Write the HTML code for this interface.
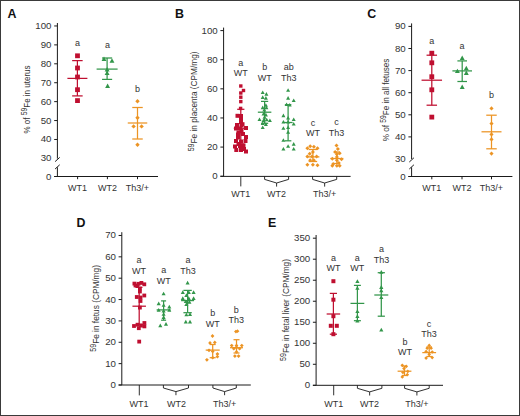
<!DOCTYPE html>
<html><head><meta charset="utf-8"><style>
html,body{margin:0;padding:0;background:#fff;}
body{width:520px;height:416px;overflow:hidden;}
svg{display:block;font-family:"Liberation Sans", sans-serif;}
</style></head><body>
<svg width="520" height="416" viewBox="0 0 520 416">
<rect x="0" y="0" width="520" height="416" fill="#fff"/>
<text x="7.60" y="17.70" font-size="12.4" text-anchor="start" fill="#111" font-weight="bold" >A</text>
<line x1="57.40" y1="23.00" x2="57.40" y2="158.60" stroke="#1a1a1a" stroke-width="1.0"/>
<line x1="57.40" y1="167.30" x2="57.40" y2="176.50" stroke="#1a1a1a" stroke-width="1.0"/>
<line x1="55.10" y1="161.60" x2="59.70" y2="157.40" stroke="#1a1a1a" stroke-width="1.0"/>
<line x1="55.10" y1="169.00" x2="59.70" y2="164.80" stroke="#1a1a1a" stroke-width="1.0"/>
<line x1="54.20" y1="25.96" x2="57.40" y2="25.96" stroke="#1a1a1a" stroke-width="1.0"/>
<text transform="translate(51.50,28.96) scale(1.1,1)" x="0" y="0" font-size="8.8" text-anchor="end" fill="#333333" font-weight="normal" >100</text>
<line x1="54.20" y1="44.88" x2="57.40" y2="44.88" stroke="#1a1a1a" stroke-width="1.0"/>
<text transform="translate(51.50,47.88) scale(1.1,1)" x="0" y="0" font-size="8.8" text-anchor="end" fill="#333333" font-weight="normal" >90</text>
<line x1="54.20" y1="63.80" x2="57.40" y2="63.80" stroke="#1a1a1a" stroke-width="1.0"/>
<text transform="translate(51.50,66.80) scale(1.1,1)" x="0" y="0" font-size="8.8" text-anchor="end" fill="#333333" font-weight="normal" >80</text>
<line x1="54.20" y1="82.72" x2="57.40" y2="82.72" stroke="#1a1a1a" stroke-width="1.0"/>
<text transform="translate(51.50,85.72) scale(1.1,1)" x="0" y="0" font-size="8.8" text-anchor="end" fill="#333333" font-weight="normal" >70</text>
<line x1="54.20" y1="101.64" x2="57.40" y2="101.64" stroke="#1a1a1a" stroke-width="1.0"/>
<text transform="translate(51.50,104.64) scale(1.1,1)" x="0" y="0" font-size="8.8" text-anchor="end" fill="#333333" font-weight="normal" >60</text>
<line x1="54.20" y1="120.56" x2="57.40" y2="120.56" stroke="#1a1a1a" stroke-width="1.0"/>
<text transform="translate(51.50,123.56) scale(1.1,1)" x="0" y="0" font-size="8.8" text-anchor="end" fill="#333333" font-weight="normal" >50</text>
<line x1="54.20" y1="139.48" x2="57.40" y2="139.48" stroke="#1a1a1a" stroke-width="1.0"/>
<text transform="translate(51.50,142.48) scale(1.1,1)" x="0" y="0" font-size="8.8" text-anchor="end" fill="#333333" font-weight="normal" >40</text>
<text transform="translate(51.50,161.40) scale(1.1,1)" x="0" y="0" font-size="8.8" text-anchor="end" fill="#333333" font-weight="normal" >30</text>
<line x1="54.20" y1="176.50" x2="57.40" y2="176.50" stroke="#1a1a1a" stroke-width="1.0"/>
<text transform="translate(51.50,179.50) scale(1.1,1)" x="0" y="0" font-size="8.8" text-anchor="end" fill="#333333" font-weight="normal" >0</text>
<line x1="54.20" y1="176.50" x2="158.00" y2="176.50" stroke="#1a1a1a" stroke-width="1.0"/>
<line x1="77.60" y1="176.50" x2="77.60" y2="179.20" stroke="#1a1a1a" stroke-width="1.0"/>
<line x1="107.40" y1="176.50" x2="107.40" y2="179.20" stroke="#1a1a1a" stroke-width="1.0"/>
<line x1="137.50" y1="176.50" x2="137.50" y2="179.20" stroke="#1a1a1a" stroke-width="1.0"/>
<text x="77.60" y="191.20" font-size="9.0" text-anchor="middle" fill="#333333" font-weight="normal" >WT1</text>
<text x="107.40" y="191.20" font-size="9.0" text-anchor="middle" fill="#333333" font-weight="normal" >WT2</text>
<text x="137.50" y="191.20" font-size="9.0" text-anchor="middle" fill="#333333" font-weight="normal" >Th3/+</text>
<text transform="translate(29.60,99.50) rotate(-90)" x="0" y="0" font-size="9.6" text-anchor="middle" fill="#333333" textLength="68.0" lengthAdjust="spacingAndGlyphs">% of <tspan font-size="8.16" dy="-3.0">59</tspan><tspan dy="3.0">​</tspan>Fe in uterus</text>
<line x1="77.40" y1="60.60" x2="77.40" y2="95.90" stroke="#bf0f30" stroke-width="1.25"/>
<line x1="67.40" y1="78.40" x2="87.40" y2="78.40" stroke="#bf0f30" stroke-width="1.25"/>
<line x1="72.15" y1="60.60" x2="82.65" y2="60.60" stroke="#bf0f30" stroke-width="1.25"/>
<line x1="72.15" y1="95.90" x2="82.65" y2="95.90" stroke="#bf0f30" stroke-width="1.25"/>
<rect x="75.10" y="53.40" width="4.8" height="4.8" fill="#bf0f30"/>
<rect x="75.10" y="65.60" width="4.8" height="4.8" fill="#bf0f30"/>
<rect x="75.10" y="74.60" width="4.8" height="4.8" fill="#bf0f30"/>
<rect x="75.10" y="87.30" width="4.8" height="4.8" fill="#bf0f30"/>
<rect x="75.10" y="98.20" width="4.8" height="4.8" fill="#bf0f30"/>
<text x="77.60" y="46.30" font-size="9.0" text-anchor="middle" fill="#333333" font-weight="normal" >a</text>
<line x1="107.10" y1="58.00" x2="107.10" y2="79.40" stroke="#32964a" stroke-width="1.25"/>
<line x1="96.60" y1="69.10" x2="117.60" y2="69.10" stroke="#32964a" stroke-width="1.25"/>
<line x1="102.05" y1="58.00" x2="112.15" y2="58.00" stroke="#32964a" stroke-width="1.25"/>
<line x1="102.05" y1="79.40" x2="112.15" y2="79.40" stroke="#32964a" stroke-width="1.25"/>
<path d="M104.00,56.50 L106.45,60.91 L101.55,60.91Z" fill="#32964a"/>
<path d="M112.00,58.30 L114.45,62.70 L109.55,62.70Z" fill="#32964a"/>
<path d="M107.10,67.09 L109.55,71.50 L104.65,71.50Z" fill="#32964a"/>
<path d="M107.10,70.50 L109.55,74.91 L104.65,74.91Z" fill="#32964a"/>
<path d="M107.60,83.50 L110.05,87.91 L105.15,87.91Z" fill="#32964a"/>
<text x="107.40" y="48.30" font-size="9.0" text-anchor="middle" fill="#333333" font-weight="normal" >a</text>
<line x1="137.50" y1="107.50" x2="137.50" y2="139.00" stroke="#ec9424" stroke-width="1.25"/>
<line x1="127.75" y1="123.00" x2="147.25" y2="123.00" stroke="#ec9424" stroke-width="1.25"/>
<line x1="132.25" y1="107.50" x2="142.75" y2="107.50" stroke="#ec9424" stroke-width="1.25"/>
<line x1="132.25" y1="139.00" x2="142.75" y2="139.00" stroke="#ec9424" stroke-width="1.25"/>
<path d="M137.50,99.10 L139.70,101.30 L137.50,103.50 L135.30,101.30Z" fill="#ec9424"/>
<path d="M137.50,115.50 L139.70,117.70 L137.50,119.90 L135.30,117.70Z" fill="#ec9424"/>
<path d="M133.60,124.20 L135.80,126.40 L133.60,128.60 L131.40,126.40Z" fill="#ec9424"/>
<path d="M141.60,124.20 L143.80,126.40 L141.60,128.60 L139.40,126.40Z" fill="#ec9424"/>
<path d="M137.50,142.60 L139.70,144.80 L137.50,147.00 L135.30,144.80Z" fill="#ec9424"/>
<text x="137.50" y="92.00" font-size="9.0" text-anchor="middle" fill="#333333" font-weight="normal" >b</text>
<text x="175.00" y="17.90" font-size="12.4" text-anchor="start" fill="#111" font-weight="bold" >B</text>
<line x1="223.60" y1="27.60" x2="223.60" y2="176.40" stroke="#1a1a1a" stroke-width="1.0"/>
<line x1="220.40" y1="30.60" x2="223.60" y2="30.60" stroke="#1a1a1a" stroke-width="1.0"/>
<text transform="translate(217.70,33.60) scale(1.1,1)" x="0" y="0" font-size="8.8" text-anchor="end" fill="#333333" font-weight="normal" >100</text>
<line x1="220.40" y1="59.72" x2="223.60" y2="59.72" stroke="#1a1a1a" stroke-width="1.0"/>
<text transform="translate(217.70,62.72) scale(1.1,1)" x="0" y="0" font-size="8.8" text-anchor="end" fill="#333333" font-weight="normal" >80</text>
<line x1="220.40" y1="88.84" x2="223.60" y2="88.84" stroke="#1a1a1a" stroke-width="1.0"/>
<text transform="translate(217.70,91.84) scale(1.1,1)" x="0" y="0" font-size="8.8" text-anchor="end" fill="#333333" font-weight="normal" >60</text>
<line x1="220.40" y1="117.96" x2="223.60" y2="117.96" stroke="#1a1a1a" stroke-width="1.0"/>
<text transform="translate(217.70,120.96) scale(1.1,1)" x="0" y="0" font-size="8.8" text-anchor="end" fill="#333333" font-weight="normal" >40</text>
<line x1="220.40" y1="147.08" x2="223.60" y2="147.08" stroke="#1a1a1a" stroke-width="1.0"/>
<text transform="translate(217.70,150.08) scale(1.1,1)" x="0" y="0" font-size="8.8" text-anchor="end" fill="#333333" font-weight="normal" >20</text>
<line x1="220.40" y1="176.20" x2="223.60" y2="176.20" stroke="#1a1a1a" stroke-width="1.0"/>
<text transform="translate(217.70,179.20) scale(1.1,1)" x="0" y="0" font-size="8.8" text-anchor="end" fill="#333333" font-weight="normal" >0</text>
<line x1="220.40" y1="176.40" x2="350.60" y2="176.40" stroke="#1a1a1a" stroke-width="1.0"/>
<line x1="240.80" y1="176.40" x2="240.80" y2="186.40" stroke="#1a1a1a" stroke-width="0.9"/>
<path d="M264.60,176.40 V179.40 L276.60,183.00 L288.60,179.40 V176.40 M276.60,183.00 V186.60" fill="none" stroke="#1a1a1a" stroke-width="0.9"/>
<path d="M312.60,176.40 V179.40 L324.65,183.00 L336.70,179.40 V176.40 M324.65,183.00 V186.60" fill="none" stroke="#1a1a1a" stroke-width="0.9"/>
<text x="240.80" y="197.40" font-size="9.0" text-anchor="middle" fill="#333333" font-weight="normal" >WT1</text>
<text x="276.60" y="197.40" font-size="9.0" text-anchor="middle" fill="#333333" font-weight="normal" >WT2</text>
<text x="324.60" y="197.40" font-size="9.0" text-anchor="middle" fill="#333333" font-weight="normal" >Th3/+</text>
<text transform="translate(196.60,101.40) rotate(-90)" x="0" y="0" font-size="9.6" text-anchor="middle" fill="#333333" textLength="99.8" lengthAdjust="spacingAndGlyphs"><tspan font-size="8.16" dy="-3.0">59</tspan><tspan dy="3.0">​</tspan>Fe in placenta (CPM/mg)</text>
<text x="240.80" y="65.50" font-size="9.0" text-anchor="middle" fill="#333333" font-weight="normal" >a</text>
<text x="240.80" y="76.30" font-size="9.0" text-anchor="middle" fill="#333333" font-weight="normal" >WT</text>
<text x="264.80" y="70.00" font-size="9.0" text-anchor="middle" fill="#333333" font-weight="normal" >b</text>
<text x="264.80" y="81.30" font-size="9.0" text-anchor="middle" fill="#333333" font-weight="normal" >WT</text>
<text x="288.70" y="70.00" font-size="9.0" text-anchor="middle" fill="#333333" font-weight="normal" >ab</text>
<text x="288.70" y="81.30" font-size="9.0" text-anchor="middle" fill="#333333" font-weight="normal" >Th3</text>
<text x="312.90" y="126.30" font-size="9.0" text-anchor="middle" fill="#333333" font-weight="normal" >c</text>
<text x="312.90" y="136.30" font-size="9.0" text-anchor="middle" fill="#333333" font-weight="normal" >WT</text>
<text x="336.60" y="125.00" font-size="9.0" text-anchor="middle" fill="#333333" font-weight="normal" >c</text>
<text x="336.60" y="135.50" font-size="9.0" text-anchor="middle" fill="#333333" font-weight="normal" >Th3</text>
<line x1="240.80" y1="109.30" x2="240.80" y2="144.00" stroke="#bf0f30" stroke-width="1.25"/>
<line x1="233.80" y1="128.30" x2="247.80" y2="128.30" stroke="#bf0f30" stroke-width="1.25"/>
<line x1="237.20" y1="109.30" x2="244.40" y2="109.30" stroke="#bf0f30" stroke-width="1.25"/>
<line x1="237.20" y1="144.00" x2="244.40" y2="144.00" stroke="#bf0f30" stroke-width="1.25"/>
<rect x="239.10" y="84.30" width="3.4" height="3.4" fill="#bf0f30"/>
<rect x="241.80" y="88.80" width="3.4" height="3.4" fill="#bf0f30"/>
<rect x="239.10" y="91.30" width="3.4" height="3.4" fill="#bf0f30"/>
<rect x="239.10" y="95.50" width="3.4" height="3.4" fill="#bf0f30"/>
<rect x="239.10" y="99.90" width="3.4" height="3.4" fill="#bf0f30"/>
<rect x="238.90" y="106.70" width="3.4" height="3.4" fill="#bf0f30"/>
<rect x="235.50" y="113.80" width="4.0" height="4.0" fill="#bf0f30"/>
<rect x="239.00" y="114.00" width="4.0" height="4.0" fill="#bf0f30"/>
<rect x="239.00" y="117.50" width="4.0" height="4.0" fill="#bf0f30"/>
<rect x="239.00" y="120.00" width="4.0" height="4.0" fill="#bf0f30"/>
<rect x="240.50" y="122.20" width="4.0" height="4.0" fill="#bf0f30"/>
<rect x="239.50" y="123.50" width="4.0" height="4.0" fill="#bf0f30"/>
<rect x="234.00" y="126.50" width="4.0" height="4.0" fill="#bf0f30"/>
<rect x="238.00" y="126.50" width="4.0" height="4.0" fill="#bf0f30"/>
<rect x="244.00" y="126.00" width="4.0" height="4.0" fill="#bf0f30"/>
<rect x="236.50" y="130.50" width="4.0" height="4.0" fill="#bf0f30"/>
<rect x="239.50" y="129.00" width="4.0" height="4.0" fill="#bf0f30"/>
<rect x="236.00" y="135.50" width="4.0" height="4.0" fill="#bf0f30"/>
<rect x="244.00" y="135.00" width="4.0" height="4.0" fill="#bf0f30"/>
<rect x="234.00" y="139.00" width="4.0" height="4.0" fill="#bf0f30"/>
<rect x="239.00" y="139.50" width="4.0" height="4.0" fill="#bf0f30"/>
<rect x="243.50" y="139.00" width="4.0" height="4.0" fill="#bf0f30"/>
<rect x="238.00" y="144.00" width="4.0" height="4.0" fill="#bf0f30"/>
<rect x="241.50" y="143.50" width="4.0" height="4.0" fill="#bf0f30"/>
<rect x="234.30" y="148.00" width="4.0" height="4.0" fill="#bf0f30"/>
<rect x="239.00" y="148.00" width="4.0" height="4.0" fill="#bf0f30"/>
<rect x="244.00" y="149.50" width="4.0" height="4.0" fill="#bf0f30"/>
<rect x="233.00" y="144.50" width="4.0" height="4.0" fill="#bf0f30"/>
<rect x="236.00" y="132.50" width="4.0" height="4.0" fill="#bf0f30"/>
<rect x="241.00" y="132.00" width="4.0" height="4.0" fill="#bf0f30"/>
<rect x="242.00" y="147.00" width="4.0" height="4.0" fill="#bf0f30"/>
<rect x="236.50" y="142.00" width="4.0" height="4.0" fill="#bf0f30"/>
<rect x="235.00" y="123.00" width="4.0" height="4.0" fill="#bf0f30"/>
<line x1="264.60" y1="101.40" x2="264.60" y2="123.30" stroke="#32964a" stroke-width="1.25"/>
<line x1="257.85" y1="112.20" x2="271.35" y2="112.20" stroke="#32964a" stroke-width="1.25"/>
<line x1="261.00" y1="101.40" x2="268.20" y2="101.40" stroke="#32964a" stroke-width="1.25"/>
<line x1="261.00" y1="123.30" x2="268.20" y2="123.30" stroke="#32964a" stroke-width="1.25"/>
<path d="M262.70,90.50 L264.70,94.10 L260.70,94.10Z" fill="#32964a"/>
<path d="M266.40,92.10 L268.40,95.70 L264.40,95.70Z" fill="#32964a"/>
<path d="M262.70,95.30 L264.70,98.90 L260.70,98.90Z" fill="#32964a"/>
<path d="M265.90,96.10 L267.90,99.70 L263.90,99.70Z" fill="#32964a"/>
<path d="M265.90,103.20 L267.90,106.80 L263.90,106.80Z" fill="#32964a"/>
<path d="M262.70,105.60 L264.70,109.20 L260.70,109.20Z" fill="#32964a"/>
<path d="M266.40,105.60 L268.40,109.20 L264.40,109.20Z" fill="#32964a"/>
<path d="M264.30,108.00 L266.30,111.60 L262.30,111.60Z" fill="#32964a"/>
<path d="M263.50,112.00 L265.50,115.60 L261.50,115.60Z" fill="#32964a"/>
<path d="M265.90,112.80 L267.90,116.40 L263.90,116.40Z" fill="#32964a"/>
<path d="M259.50,117.50 L261.50,121.10 L257.50,121.10Z" fill="#32964a"/>
<path d="M263.50,118.50 L265.50,122.10 L261.50,122.10Z" fill="#32964a"/>
<path d="M266.70,117.70 L268.70,121.30 L264.70,121.30Z" fill="#32964a"/>
<path d="M269.90,118.50 L271.90,122.10 L267.90,122.10Z" fill="#32964a"/>
<path d="M262.70,121.50 L264.70,125.10 L260.70,125.10Z" fill="#32964a"/>
<path d="M265.90,122.30 L267.90,125.90 L263.90,125.90Z" fill="#32964a"/>
<path d="M262.70,125.50 L264.70,129.10 L260.70,129.10Z" fill="#32964a"/>
<path d="M264.50,115.20 L266.50,118.80 L262.50,118.80Z" fill="#32964a"/>
<line x1="288.10" y1="104.70" x2="288.10" y2="140.80" stroke="#32964a" stroke-width="1.25"/>
<line x1="283.60" y1="122.50" x2="292.60" y2="122.50" stroke="#32964a" stroke-width="1.25"/>
<line x1="284.85" y1="104.70" x2="291.35" y2="104.70" stroke="#32964a" stroke-width="1.25"/>
<line x1="284.85" y1="140.80" x2="291.35" y2="140.80" stroke="#32964a" stroke-width="1.25"/>
<path d="M288.10,88.20 L290.10,91.80 L286.10,91.80Z" fill="#32964a"/>
<path d="M288.10,96.10 L290.10,99.70 L286.10,99.70Z" fill="#32964a"/>
<path d="M293.70,98.50 L295.70,102.10 L291.70,102.10Z" fill="#32964a"/>
<path d="M286.60,102.50 L288.60,106.10 L284.60,106.10Z" fill="#32964a"/>
<path d="M289.70,102.90 L291.70,106.50 L287.70,106.50Z" fill="#32964a"/>
<path d="M283.40,113.60 L285.40,117.20 L281.40,117.20Z" fill="#32964a"/>
<path d="M293.70,117.50 L295.70,121.10 L291.70,121.10Z" fill="#32964a"/>
<path d="M288.10,115.90 L290.10,119.50 L286.10,119.50Z" fill="#32964a"/>
<path d="M283.40,119.90 L285.40,123.50 L281.40,123.50Z" fill="#32964a"/>
<path d="M288.10,119.90 L290.10,123.50 L286.10,123.50Z" fill="#32964a"/>
<path d="M293.70,122.00 L295.70,125.60 L291.70,125.60Z" fill="#32964a"/>
<path d="M283.40,126.20 L285.40,129.80 L281.40,129.80Z" fill="#32964a"/>
<path d="M288.10,125.50 L290.10,129.10 L286.10,129.10Z" fill="#32964a"/>
<path d="M288.10,130.20 L290.10,133.80 L286.10,133.80Z" fill="#32964a"/>
<path d="M283.40,138.20 L285.40,141.80 L281.40,141.80Z" fill="#32964a"/>
<path d="M283.40,146.90 L285.40,150.50 L281.40,150.50Z" fill="#32964a"/>
<path d="M288.10,144.20 L290.10,147.80 L286.10,147.80Z" fill="#32964a"/>
<path d="M293.70,142.10 L295.70,145.70 L291.70,145.70Z" fill="#32964a"/>
<path d="M293.70,146.90 L295.70,150.50 L291.70,150.50Z" fill="#32964a"/>
<line x1="312.90" y1="149.50" x2="312.90" y2="161.50" stroke="#ec9424" stroke-width="1.25"/>
<line x1="306.40" y1="156.90" x2="319.40" y2="156.90" stroke="#ec9424" stroke-width="1.25"/>
<line x1="308.65" y1="149.50" x2="317.15" y2="149.50" stroke="#ec9424" stroke-width="1.25"/>
<line x1="308.65" y1="161.50" x2="317.15" y2="161.50" stroke="#ec9424" stroke-width="1.25"/>
<path d="M310.20,144.30 L312.20,146.30 L310.20,148.30 L308.20,146.30Z" fill="#ec9424"/>
<path d="M313.90,144.80 L315.90,146.80 L313.90,148.80 L311.90,146.80Z" fill="#ec9424"/>
<path d="M307.40,146.20 L309.40,148.20 L307.40,150.20 L305.40,148.20Z" fill="#ec9424"/>
<path d="M317.50,146.20 L319.50,148.20 L317.50,150.20 L315.50,148.20Z" fill="#ec9424"/>
<path d="M312.90,149.90 L314.90,151.90 L312.90,153.90 L310.90,151.90Z" fill="#ec9424"/>
<path d="M309.70,151.70 L311.70,153.70 L309.70,155.70 L307.70,153.70Z" fill="#ec9424"/>
<path d="M307.40,154.50 L309.40,156.50 L307.40,158.50 L305.40,156.50Z" fill="#ec9424"/>
<path d="M312.00,154.50 L314.00,156.50 L312.00,158.50 L310.00,156.50Z" fill="#ec9424"/>
<path d="M316.60,154.50 L318.60,156.50 L316.60,158.50 L314.60,156.50Z" fill="#ec9424"/>
<path d="M310.20,158.20 L312.20,160.20 L310.20,162.20 L308.20,160.20Z" fill="#ec9424"/>
<path d="M313.90,158.20 L315.90,160.20 L313.90,162.20 L311.90,160.20Z" fill="#ec9424"/>
<path d="M307.40,162.80 L309.40,164.80 L307.40,166.80 L305.40,164.80Z" fill="#ec9424"/>
<path d="M312.90,162.80 L314.90,164.80 L312.90,166.80 L310.90,164.80Z" fill="#ec9424"/>
<path d="M317.50,163.20 L319.50,165.20 L317.50,167.20 L315.50,165.20Z" fill="#ec9424"/>
<line x1="336.90" y1="152.00" x2="336.90" y2="163.50" stroke="#ec9424" stroke-width="1.25"/>
<line x1="330.40" y1="158.50" x2="343.40" y2="158.50" stroke="#ec9424" stroke-width="1.25"/>
<line x1="333.90" y1="152.00" x2="339.90" y2="152.00" stroke="#ec9424" stroke-width="1.25"/>
<line x1="333.90" y1="163.50" x2="339.90" y2="163.50" stroke="#ec9424" stroke-width="1.25"/>
<path d="M336.50,143.40 L338.50,145.40 L336.50,147.40 L334.50,145.40Z" fill="#ec9424"/>
<path d="M337.90,147.10 L339.90,149.10 L337.90,151.10 L335.90,149.10Z" fill="#ec9424"/>
<path d="M335.10,149.90 L337.10,151.90 L335.10,153.90 L333.10,151.90Z" fill="#ec9424"/>
<path d="M339.70,151.20 L341.70,153.20 L339.70,155.20 L337.70,153.20Z" fill="#ec9424"/>
<path d="M336.90,152.20 L338.90,154.20 L336.90,156.20 L334.90,154.20Z" fill="#ec9424"/>
<path d="M332.30,156.80 L334.30,158.80 L332.30,160.80 L330.30,158.80Z" fill="#ec9424"/>
<path d="M341.50,157.20 L343.50,159.20 L341.50,161.20 L339.50,159.20Z" fill="#ec9424"/>
<path d="M336.90,158.20 L338.90,160.20 L336.90,162.20 L334.90,160.20Z" fill="#ec9424"/>
<path d="M333.20,161.90 L335.20,163.90 L333.20,165.90 L331.20,163.90Z" fill="#ec9424"/>
<path d="M338.80,161.00 L340.80,163.00 L338.80,165.00 L336.80,163.00Z" fill="#ec9424"/>
<path d="M336.90,163.70 L338.90,165.70 L336.90,167.70 L334.90,165.70Z" fill="#ec9424"/>
<path d="M332.30,163.70 L334.30,165.70 L332.30,167.70 L330.30,165.70Z" fill="#ec9424"/>
<path d="M339.70,163.70 L341.70,165.70 L339.70,167.70 L337.70,165.70Z" fill="#ec9424"/>
<path d="M336.90,155.00 L338.90,157.00 L336.90,159.00 L334.90,157.00Z" fill="#ec9424"/>
<text x="367.20" y="17.90" font-size="12.4" text-anchor="start" fill="#111" font-weight="bold" >C</text>
<line x1="411.60" y1="23.40" x2="411.60" y2="159.00" stroke="#1a1a1a" stroke-width="1.0"/>
<line x1="411.60" y1="167.30" x2="411.60" y2="176.50" stroke="#1a1a1a" stroke-width="1.0"/>
<line x1="409.30" y1="162.00" x2="413.90" y2="157.80" stroke="#1a1a1a" stroke-width="1.0"/>
<line x1="409.30" y1="169.00" x2="413.90" y2="164.80" stroke="#1a1a1a" stroke-width="1.0"/>
<line x1="408.40" y1="26.40" x2="411.60" y2="26.40" stroke="#1a1a1a" stroke-width="1.0"/>
<text transform="translate(405.70,29.40) scale(1.1,1)" x="0" y="0" font-size="8.8" text-anchor="end" fill="#333333" font-weight="normal" >90</text>
<line x1="408.40" y1="48.50" x2="411.60" y2="48.50" stroke="#1a1a1a" stroke-width="1.0"/>
<text transform="translate(405.70,51.50) scale(1.1,1)" x="0" y="0" font-size="8.8" text-anchor="end" fill="#333333" font-weight="normal" >80</text>
<line x1="408.40" y1="70.60" x2="411.60" y2="70.60" stroke="#1a1a1a" stroke-width="1.0"/>
<text transform="translate(405.70,73.60) scale(1.1,1)" x="0" y="0" font-size="8.8" text-anchor="end" fill="#333333" font-weight="normal" >70</text>
<line x1="408.40" y1="92.70" x2="411.60" y2="92.70" stroke="#1a1a1a" stroke-width="1.0"/>
<text transform="translate(405.70,95.70) scale(1.1,1)" x="0" y="0" font-size="8.8" text-anchor="end" fill="#333333" font-weight="normal" >60</text>
<line x1="408.40" y1="114.80" x2="411.60" y2="114.80" stroke="#1a1a1a" stroke-width="1.0"/>
<text transform="translate(405.70,117.80) scale(1.1,1)" x="0" y="0" font-size="8.8" text-anchor="end" fill="#333333" font-weight="normal" >50</text>
<line x1="408.40" y1="136.90" x2="411.60" y2="136.90" stroke="#1a1a1a" stroke-width="1.0"/>
<text transform="translate(405.70,139.90) scale(1.1,1)" x="0" y="0" font-size="8.8" text-anchor="end" fill="#333333" font-weight="normal" >40</text>
<text transform="translate(405.70,162.00) scale(1.1,1)" x="0" y="0" font-size="8.8" text-anchor="end" fill="#333333" font-weight="normal" >30</text>
<line x1="408.40" y1="176.50" x2="411.60" y2="176.50" stroke="#1a1a1a" stroke-width="1.0"/>
<text transform="translate(405.70,179.50) scale(1.1,1)" x="0" y="0" font-size="8.8" text-anchor="end" fill="#333333" font-weight="normal" >0</text>
<line x1="408.40" y1="176.50" x2="512.40" y2="176.50" stroke="#1a1a1a" stroke-width="1.0"/>
<line x1="431.80" y1="176.50" x2="431.80" y2="179.30" stroke="#1a1a1a" stroke-width="1.0"/>
<line x1="462.00" y1="176.50" x2="462.00" y2="179.30" stroke="#1a1a1a" stroke-width="1.0"/>
<line x1="491.50" y1="176.50" x2="491.50" y2="179.30" stroke="#1a1a1a" stroke-width="1.0"/>
<text x="431.70" y="191.20" font-size="9.0" text-anchor="middle" fill="#333333" font-weight="normal" >WT1</text>
<text x="462.00" y="191.20" font-size="9.0" text-anchor="middle" fill="#333333" font-weight="normal" >WT2</text>
<text x="491.50" y="191.20" font-size="9.0" text-anchor="middle" fill="#333333" font-weight="normal" >Th3/+</text>
<text transform="translate(389.00,99.95) rotate(-90)" x="0" y="0" font-size="9.6" text-anchor="middle" fill="#333333" textLength="82.5" lengthAdjust="spacingAndGlyphs">% of <tspan font-size="8.16" dy="-3.0">59</tspan><tspan dy="3.0">​</tspan>Fe in all fetuses</text>
<line x1="431.80" y1="55.20" x2="431.80" y2="105.20" stroke="#bf0f30" stroke-width="1.25"/>
<line x1="421.55" y1="80.20" x2="442.05" y2="80.20" stroke="#bf0f30" stroke-width="1.25"/>
<line x1="426.55" y1="55.20" x2="437.05" y2="55.20" stroke="#bf0f30" stroke-width="1.25"/>
<line x1="426.55" y1="105.20" x2="437.05" y2="105.20" stroke="#bf0f30" stroke-width="1.25"/>
<rect x="429.40" y="50.80" width="4.8" height="4.8" fill="#bf0f30"/>
<rect x="429.40" y="60.40" width="4.8" height="4.8" fill="#bf0f30"/>
<rect x="429.40" y="74.30" width="4.8" height="4.8" fill="#bf0f30"/>
<rect x="429.40" y="87.40" width="4.8" height="4.8" fill="#bf0f30"/>
<rect x="429.40" y="114.70" width="4.8" height="4.8" fill="#bf0f30"/>
<text x="431.70" y="43.50" font-size="9.0" text-anchor="middle" fill="#333333" font-weight="normal" >a</text>
<line x1="462.20" y1="60.90" x2="462.20" y2="81.50" stroke="#32964a" stroke-width="1.25"/>
<line x1="452.40" y1="70.90" x2="472.00" y2="70.90" stroke="#32964a" stroke-width="1.25"/>
<line x1="457.40" y1="60.90" x2="467.00" y2="60.90" stroke="#32964a" stroke-width="1.25"/>
<line x1="457.40" y1="81.50" x2="467.00" y2="81.50" stroke="#32964a" stroke-width="1.25"/>
<path d="M462.20,55.59 L464.65,60.00 L459.75,60.00Z" fill="#32964a"/>
<path d="M457.40,68.70 L459.85,73.11 L454.95,73.11Z" fill="#32964a"/>
<path d="M466.30,65.80 L468.75,70.20 L463.85,70.20Z" fill="#32964a"/>
<path d="M466.30,70.59 L468.75,75.00 L463.85,75.00Z" fill="#32964a"/>
<path d="M462.20,84.50 L464.65,88.91 L459.75,88.91Z" fill="#32964a"/>
<text x="462.00" y="48.50" font-size="9.0" text-anchor="middle" fill="#333333" font-weight="normal" >a</text>
<line x1="491.50" y1="115.20" x2="491.50" y2="148.80" stroke="#ec9424" stroke-width="1.25"/>
<line x1="481.50" y1="131.80" x2="501.50" y2="131.80" stroke="#ec9424" stroke-width="1.25"/>
<line x1="486.25" y1="115.20" x2="496.75" y2="115.20" stroke="#ec9424" stroke-width="1.25"/>
<line x1="486.25" y1="148.80" x2="496.75" y2="148.80" stroke="#ec9424" stroke-width="1.25"/>
<path d="M491.50,106.35 L493.55,108.40 L491.50,110.45 L489.45,108.40Z" fill="#ec9424"/>
<path d="M491.50,121.55 L493.55,123.60 L491.50,125.65 L489.45,123.60Z" fill="#ec9424"/>
<path d="M491.50,132.35 L493.55,134.40 L491.50,136.45 L489.45,134.40Z" fill="#ec9424"/>
<path d="M491.50,137.35 L493.55,139.40 L491.50,141.45 L489.45,139.40Z" fill="#ec9424"/>
<path d="M491.50,151.55 L493.55,153.60 L491.50,155.65 L489.45,153.60Z" fill="#ec9424"/>
<text x="491.50" y="97.50" font-size="9.0" text-anchor="middle" fill="#333333" font-weight="normal" >b</text>
<text x="76.60" y="227.10" font-size="12.4" text-anchor="start" fill="#111" font-weight="bold" >D</text>
<line x1="121.80" y1="232.20" x2="121.80" y2="385.00" stroke="#1a1a1a" stroke-width="1.0"/>
<line x1="118.60" y1="235.48" x2="121.80" y2="235.48" stroke="#1a1a1a" stroke-width="1.0"/>
<text transform="translate(115.90,238.48) scale(1.1,1)" x="0" y="0" font-size="8.8" text-anchor="end" fill="#333333" font-weight="normal" >70</text>
<line x1="118.60" y1="256.84" x2="121.80" y2="256.84" stroke="#1a1a1a" stroke-width="1.0"/>
<text transform="translate(115.90,259.84) scale(1.1,1)" x="0" y="0" font-size="8.8" text-anchor="end" fill="#333333" font-weight="normal" >60</text>
<line x1="118.60" y1="278.20" x2="121.80" y2="278.20" stroke="#1a1a1a" stroke-width="1.0"/>
<text transform="translate(115.90,281.20) scale(1.1,1)" x="0" y="0" font-size="8.8" text-anchor="end" fill="#333333" font-weight="normal" >50</text>
<line x1="118.60" y1="299.56" x2="121.80" y2="299.56" stroke="#1a1a1a" stroke-width="1.0"/>
<text transform="translate(115.90,302.56) scale(1.1,1)" x="0" y="0" font-size="8.8" text-anchor="end" fill="#333333" font-weight="normal" >40</text>
<line x1="118.60" y1="320.92" x2="121.80" y2="320.92" stroke="#1a1a1a" stroke-width="1.0"/>
<text transform="translate(115.90,323.92) scale(1.1,1)" x="0" y="0" font-size="8.8" text-anchor="end" fill="#333333" font-weight="normal" >30</text>
<line x1="118.60" y1="342.28" x2="121.80" y2="342.28" stroke="#1a1a1a" stroke-width="1.0"/>
<text transform="translate(115.90,345.28) scale(1.1,1)" x="0" y="0" font-size="8.8" text-anchor="end" fill="#333333" font-weight="normal" >20</text>
<line x1="118.60" y1="363.64" x2="121.80" y2="363.64" stroke="#1a1a1a" stroke-width="1.0"/>
<text transform="translate(115.90,366.64) scale(1.1,1)" x="0" y="0" font-size="8.8" text-anchor="end" fill="#333333" font-weight="normal" >10</text>
<line x1="118.60" y1="385.00" x2="121.80" y2="385.00" stroke="#1a1a1a" stroke-width="1.0"/>
<text transform="translate(115.90,388.00) scale(1.1,1)" x="0" y="0" font-size="8.8" text-anchor="end" fill="#333333" font-weight="normal" >0</text>
<line x1="118.60" y1="385.00" x2="250.80" y2="385.00" stroke="#1a1a1a" stroke-width="1.0"/>
<line x1="139.30" y1="385.00" x2="139.30" y2="395.40" stroke="#1a1a1a" stroke-width="0.9"/>
<path d="M163.40,385.00 V388.00 L175.95,391.60 L188.50,388.00 V385.00 M175.95,391.60 V395.20" fill="none" stroke="#1a1a1a" stroke-width="0.9"/>
<path d="M212.90,385.00 V388.00 L224.60,391.60 L236.30,388.00 V385.00 M224.60,391.60 V395.20" fill="none" stroke="#1a1a1a" stroke-width="0.9"/>
<text x="139.00" y="406.50" font-size="9.0" text-anchor="middle" fill="#333333" font-weight="normal" >WT1</text>
<text x="176.40" y="406.50" font-size="9.0" text-anchor="middle" fill="#333333" font-weight="normal" >WT2</text>
<text x="224.60" y="406.50" font-size="9.0" text-anchor="middle" fill="#333333" font-weight="normal" >Th3/+</text>
<text transform="translate(99.00,308.40) rotate(-90)" x="0" y="0" font-size="9.6" text-anchor="middle" fill="#333333" textLength="86.6" lengthAdjust="spacingAndGlyphs"><tspan font-size="8.16" dy="-3.0">59</tspan><tspan dy="3.0">​</tspan>Fe in fetus (CPM/mg)</text>
<text x="139.10" y="263.10" font-size="9.0" text-anchor="middle" fill="#333333" font-weight="normal" >a</text>
<text x="139.10" y="273.80" font-size="9.0" text-anchor="middle" fill="#333333" font-weight="normal" >WT</text>
<text x="163.70" y="273.30" font-size="9.0" text-anchor="middle" fill="#333333" font-weight="normal" >a</text>
<text x="163.70" y="284.10" font-size="9.0" text-anchor="middle" fill="#333333" font-weight="normal" >WT</text>
<text x="188.00" y="263.10" font-size="9.0" text-anchor="middle" fill="#333333" font-weight="normal" >a</text>
<text x="188.00" y="273.80" font-size="9.0" text-anchor="middle" fill="#333333" font-weight="normal" >Th3</text>
<text x="212.70" y="315.80" font-size="9.0" text-anchor="middle" fill="#333333" font-weight="normal" >b</text>
<text x="212.70" y="326.50" font-size="9.0" text-anchor="middle" fill="#333333" font-weight="normal" >WT</text>
<text x="236.30" y="312.50" font-size="9.0" text-anchor="middle" fill="#333333" font-weight="normal" >b</text>
<text x="236.30" y="323.30" font-size="9.0" text-anchor="middle" fill="#333333" font-weight="normal" >Th3</text>
<line x1="139.20" y1="287.40" x2="139.20" y2="324.30" stroke="#bf0f30" stroke-width="1.25"/>
<line x1="132.45" y1="306.20" x2="145.95" y2="306.20" stroke="#bf0f30" stroke-width="1.25"/>
<line x1="135.95" y1="287.40" x2="142.45" y2="287.40" stroke="#bf0f30" stroke-width="1.25"/>
<line x1="135.95" y1="324.30" x2="142.45" y2="324.30" stroke="#bf0f30" stroke-width="1.25"/>
<rect x="132.50" y="281.70" width="3.8" height="3.8" fill="#bf0f30"/>
<rect x="139.50" y="281.00" width="3.8" height="3.8" fill="#bf0f30"/>
<rect x="142.40" y="282.40" width="3.8" height="3.8" fill="#bf0f30"/>
<rect x="135.40" y="284.10" width="3.8" height="3.8" fill="#bf0f30"/>
<rect x="136.60" y="281.90" width="3.8" height="3.8" fill="#bf0f30"/>
<rect x="133.60" y="283.60" width="3.8" height="3.8" fill="#bf0f30"/>
<rect x="138.00" y="286.60" width="3.8" height="3.8" fill="#bf0f30"/>
<rect x="138.00" y="289.60" width="3.8" height="3.8" fill="#bf0f30"/>
<rect x="134.90" y="295.10" width="3.8" height="3.8" fill="#bf0f30"/>
<rect x="138.60" y="295.60" width="3.8" height="3.8" fill="#bf0f30"/>
<rect x="142.40" y="293.60" width="3.8" height="3.8" fill="#bf0f30"/>
<rect x="138.60" y="299.10" width="3.8" height="3.8" fill="#bf0f30"/>
<rect x="138.00" y="305.70" width="3.8" height="3.8" fill="#bf0f30"/>
<rect x="132.10" y="324.10" width="3.8" height="3.8" fill="#bf0f30"/>
<rect x="135.60" y="322.80" width="3.8" height="3.8" fill="#bf0f30"/>
<rect x="139.10" y="323.70" width="3.8" height="3.8" fill="#bf0f30"/>
<rect x="142.50" y="321.10" width="3.8" height="3.8" fill="#bf0f30"/>
<rect x="142.50" y="324.50" width="3.8" height="3.8" fill="#bf0f30"/>
<rect x="136.90" y="326.30" width="3.8" height="3.8" fill="#bf0f30"/>
<rect x="137.30" y="339.70" width="3.8" height="3.8" fill="#bf0f30"/>
<line x1="163.60" y1="300.90" x2="163.60" y2="320.20" stroke="#32964a" stroke-width="1.25"/>
<line x1="156.60" y1="309.90" x2="170.60" y2="309.90" stroke="#32964a" stroke-width="1.25"/>
<line x1="161.10" y1="300.90" x2="166.10" y2="300.90" stroke="#32964a" stroke-width="1.25"/>
<line x1="161.10" y1="320.20" x2="166.10" y2="320.20" stroke="#32964a" stroke-width="1.25"/>
<path d="M163.60,291.65 L165.65,295.35 L161.55,295.35Z" fill="#32964a"/>
<path d="M158.70,301.45 L160.75,305.15 L156.65,305.15Z" fill="#32964a"/>
<path d="M163.60,303.15 L165.65,306.85 L161.55,306.85Z" fill="#32964a"/>
<path d="M169.30,304.75 L171.35,308.45 L167.25,308.45Z" fill="#32964a"/>
<path d="M158.70,308.05 L160.75,311.75 L156.65,311.75Z" fill="#32964a"/>
<path d="M163.60,308.85 L165.65,312.55 L161.55,312.55Z" fill="#32964a"/>
<path d="M169.30,308.05 L171.35,311.75 L167.25,311.75Z" fill="#32964a"/>
<path d="M163.60,312.15 L165.65,315.85 L161.55,315.85Z" fill="#32964a"/>
<path d="M163.60,315.35 L165.65,319.05 L161.55,319.05Z" fill="#32964a"/>
<path d="M160.30,323.55 L162.35,327.25 L158.25,327.25Z" fill="#32964a"/>
<path d="M166.00,321.95 L168.05,325.65 L163.95,325.65Z" fill="#32964a"/>
<line x1="187.60" y1="290.40" x2="187.60" y2="312.70" stroke="#32964a" stroke-width="1.25"/>
<line x1="181.10" y1="300.60" x2="194.10" y2="300.60" stroke="#32964a" stroke-width="1.25"/>
<line x1="183.40" y1="290.40" x2="191.80" y2="290.40" stroke="#32964a" stroke-width="1.25"/>
<line x1="183.40" y1="312.70" x2="191.80" y2="312.70" stroke="#32964a" stroke-width="1.25"/>
<path d="M187.60,280.75 L189.65,284.45 L185.55,284.45Z" fill="#32964a"/>
<path d="M182.80,290.35 L184.85,294.05 L180.75,294.05Z" fill="#32964a"/>
<path d="M188.80,290.35 L190.85,294.05 L186.75,294.05Z" fill="#32964a"/>
<path d="M193.60,290.35 L195.65,294.05 L191.55,294.05Z" fill="#32964a"/>
<path d="M186.40,293.35 L188.45,297.05 L184.35,297.05Z" fill="#32964a"/>
<path d="M182.80,296.35 L184.85,300.05 L180.75,300.05Z" fill="#32964a"/>
<path d="M188.80,296.35 L190.85,300.05 L186.75,300.05Z" fill="#32964a"/>
<path d="M193.60,296.35 L195.65,300.05 L191.55,300.05Z" fill="#32964a"/>
<path d="M185.80,299.35 L187.85,303.05 L183.75,303.05Z" fill="#32964a"/>
<path d="M189.40,299.95 L191.45,303.65 L187.35,303.65Z" fill="#32964a"/>
<path d="M186.40,302.35 L188.45,306.05 L184.35,306.05Z" fill="#32964a"/>
<path d="M186.40,312.65 L188.45,316.35 L184.35,316.35Z" fill="#32964a"/>
<path d="M190.00,312.35 L192.05,316.05 L187.95,316.05Z" fill="#32964a"/>
<path d="M185.80,319.85 L187.85,323.55 L183.75,323.55Z" fill="#32964a"/>
<path d="M190.00,319.85 L192.05,323.55 L187.95,323.55Z" fill="#32964a"/>
<line x1="212.70" y1="344.50" x2="212.70" y2="357.70" stroke="#ec9424" stroke-width="1.25"/>
<line x1="205.70" y1="350.10" x2="219.70" y2="350.10" stroke="#ec9424" stroke-width="1.25"/>
<line x1="209.70" y1="344.50" x2="215.70" y2="344.50" stroke="#ec9424" stroke-width="1.25"/>
<line x1="209.70" y1="357.70" x2="215.70" y2="357.70" stroke="#ec9424" stroke-width="1.25"/>
<path d="M212.50,334.10 L214.40,336.00 L212.50,337.90 L210.60,336.00Z" fill="#ec9424"/>
<path d="M210.00,341.00 L211.90,342.90 L210.00,344.80 L208.10,342.90Z" fill="#ec9424"/>
<path d="M214.80,340.50 L216.70,342.40 L214.80,344.30 L212.90,342.40Z" fill="#ec9424"/>
<path d="M209.00,348.40 L210.90,350.30 L209.00,352.20 L207.10,350.30Z" fill="#ec9424"/>
<path d="M212.70,349.50 L214.60,351.40 L212.70,353.30 L210.80,351.40Z" fill="#ec9424"/>
<path d="M217.40,352.10 L219.30,354.00 L217.40,355.90 L215.50,354.00Z" fill="#ec9424"/>
<path d="M217.40,354.80 L219.30,356.70 L217.40,358.60 L215.50,356.70Z" fill="#ec9424"/>
<path d="M212.70,355.80 L214.60,357.70 L212.70,359.60 L210.80,357.70Z" fill="#ec9424"/>
<path d="M206.90,357.90 L208.80,359.80 L206.90,361.70 L205.00,359.80Z" fill="#ec9424"/>
<line x1="236.50" y1="339.70" x2="236.50" y2="353.00" stroke="#ec9424" stroke-width="1.25"/>
<line x1="230.00" y1="347.70" x2="243.00" y2="347.70" stroke="#ec9424" stroke-width="1.25"/>
<line x1="233.50" y1="339.70" x2="239.50" y2="339.70" stroke="#ec9424" stroke-width="1.25"/>
<line x1="233.50" y1="353.00" x2="239.50" y2="353.00" stroke="#ec9424" stroke-width="1.25"/>
<path d="M235.90,329.70 L237.80,331.60 L235.90,333.50 L234.00,331.60Z" fill="#ec9424"/>
<path d="M237.50,329.30 L239.40,331.20 L237.50,333.10 L235.60,331.20Z" fill="#ec9424"/>
<path d="M231.70,343.70 L233.60,345.60 L231.70,347.50 L229.80,345.60Z" fill="#ec9424"/>
<path d="M236.50,343.70 L238.40,345.60 L236.50,347.50 L234.60,345.60Z" fill="#ec9424"/>
<path d="M241.80,343.70 L243.70,345.60 L241.80,347.50 L239.90,345.60Z" fill="#ec9424"/>
<path d="M233.80,346.80 L235.70,348.70 L233.80,350.60 L231.90,348.70Z" fill="#ec9424"/>
<path d="M239.60,346.80 L241.50,348.70 L239.60,350.60 L237.70,348.70Z" fill="#ec9424"/>
<path d="M236.50,350.00 L238.40,351.90 L236.50,353.80 L234.60,351.90Z" fill="#ec9424"/>
<path d="M234.90,354.20 L236.80,356.10 L234.90,358.00 L233.00,356.10Z" fill="#ec9424"/>
<path d="M238.60,354.20 L240.50,356.10 L238.60,358.00 L236.70,356.10Z" fill="#ec9424"/>
<path d="M236.50,345.60 L238.40,347.50 L236.50,349.40 L234.60,347.50Z" fill="#ec9424"/>
<text x="268.00" y="227.20" font-size="12.4" text-anchor="start" fill="#111" font-weight="bold" >E</text>
<line x1="316.10" y1="235.00" x2="316.10" y2="385.30" stroke="#1a1a1a" stroke-width="1.0"/>
<line x1="312.90" y1="238.20" x2="316.10" y2="238.20" stroke="#1a1a1a" stroke-width="1.0"/>
<text transform="translate(310.20,241.20) scale(1.1,1)" x="0" y="0" font-size="8.8" text-anchor="end" fill="#333333" font-weight="normal" >350</text>
<line x1="312.90" y1="259.21" x2="316.10" y2="259.21" stroke="#1a1a1a" stroke-width="1.0"/>
<text transform="translate(310.20,262.21) scale(1.1,1)" x="0" y="0" font-size="8.8" text-anchor="end" fill="#333333" font-weight="normal" >300</text>
<line x1="312.90" y1="280.23" x2="316.10" y2="280.23" stroke="#1a1a1a" stroke-width="1.0"/>
<text transform="translate(310.20,283.23) scale(1.1,1)" x="0" y="0" font-size="8.8" text-anchor="end" fill="#333333" font-weight="normal" >250</text>
<line x1="312.90" y1="301.24" x2="316.10" y2="301.24" stroke="#1a1a1a" stroke-width="1.0"/>
<text transform="translate(310.20,304.24) scale(1.1,1)" x="0" y="0" font-size="8.8" text-anchor="end" fill="#333333" font-weight="normal" >200</text>
<line x1="312.90" y1="322.25" x2="316.10" y2="322.25" stroke="#1a1a1a" stroke-width="1.0"/>
<text transform="translate(310.20,325.25) scale(1.1,1)" x="0" y="0" font-size="8.8" text-anchor="end" fill="#333333" font-weight="normal" >150</text>
<line x1="312.90" y1="343.27" x2="316.10" y2="343.27" stroke="#1a1a1a" stroke-width="1.0"/>
<text transform="translate(310.20,346.27) scale(1.1,1)" x="0" y="0" font-size="8.8" text-anchor="end" fill="#333333" font-weight="normal" >100</text>
<line x1="312.90" y1="364.29" x2="316.10" y2="364.29" stroke="#1a1a1a" stroke-width="1.0"/>
<text transform="translate(310.20,367.29) scale(1.1,1)" x="0" y="0" font-size="8.8" text-anchor="end" fill="#333333" font-weight="normal" >50</text>
<line x1="312.90" y1="385.30" x2="316.10" y2="385.30" stroke="#1a1a1a" stroke-width="1.0"/>
<text transform="translate(310.20,388.30) scale(1.1,1)" x="0" y="0" font-size="8.8" text-anchor="end" fill="#333333" font-weight="normal" >0</text>
<line x1="312.90" y1="385.30" x2="443.00" y2="385.30" stroke="#1a1a1a" stroke-width="1.0"/>
<line x1="333.70" y1="385.30" x2="333.70" y2="395.30" stroke="#1a1a1a" stroke-width="0.9"/>
<path d="M357.40,385.30 V388.30 L369.65,391.90 L381.90,388.30 V385.30 M369.65,391.90 V395.50" fill="none" stroke="#1a1a1a" stroke-width="0.9"/>
<path d="M404.60,385.30 V388.30 L416.90,391.90 L429.20,388.30 V385.30 M416.90,391.90 V395.50" fill="none" stroke="#1a1a1a" stroke-width="0.9"/>
<text x="333.80" y="406.50" font-size="9.0" text-anchor="middle" fill="#333333" font-weight="normal" >WT1</text>
<text x="369.50" y="406.50" font-size="9.0" text-anchor="middle" fill="#333333" font-weight="normal" >WT2</text>
<text x="416.90" y="406.50" font-size="9.0" text-anchor="middle" fill="#333333" font-weight="normal" >Th3/+</text>
<text transform="translate(288.60,310.00) rotate(-90)" x="0" y="0" font-size="9.6" text-anchor="middle" fill="#333333" textLength="101.8" lengthAdjust="spacingAndGlyphs"><tspan font-size="8.16" dy="-3.0">59</tspan><tspan dy="3.0">​</tspan>Fe in fetal liver (CPM/mg)</text>
<text x="333.50" y="260.60" font-size="9.0" text-anchor="middle" fill="#333333" font-weight="normal" >a</text>
<text x="333.50" y="271.40" font-size="9.0" text-anchor="middle" fill="#333333" font-weight="normal" >WT</text>
<text x="357.30" y="260.60" font-size="9.0" text-anchor="middle" fill="#333333" font-weight="normal" >a</text>
<text x="357.30" y="271.40" font-size="9.0" text-anchor="middle" fill="#333333" font-weight="normal" >WT</text>
<text x="381.40" y="251.70" font-size="9.0" text-anchor="middle" fill="#333333" font-weight="normal" >a</text>
<text x="381.40" y="262.80" font-size="9.0" text-anchor="middle" fill="#333333" font-weight="normal" >Th3</text>
<text x="405.00" y="344.60" font-size="9.0" text-anchor="middle" fill="#333333" font-weight="normal" >b</text>
<text x="405.00" y="354.80" font-size="9.0" text-anchor="middle" fill="#333333" font-weight="normal" >WT</text>
<text x="429.00" y="326.50" font-size="9.0" text-anchor="middle" fill="#333333" font-weight="normal" >c</text>
<text x="429.00" y="336.80" font-size="9.0" text-anchor="middle" fill="#333333" font-weight="normal" >Th3</text>
<line x1="333.40" y1="293.40" x2="333.40" y2="334.20" stroke="#bf0f30" stroke-width="1.25"/>
<line x1="326.65" y1="314.00" x2="340.15" y2="314.00" stroke="#bf0f30" stroke-width="1.25"/>
<line x1="329.80" y1="293.40" x2="337.00" y2="293.40" stroke="#bf0f30" stroke-width="1.25"/>
<line x1="329.80" y1="334.20" x2="337.00" y2="334.20" stroke="#bf0f30" stroke-width="1.25"/>
<rect x="331.40" y="279.20" width="4.0" height="4.0" fill="#bf0f30"/>
<rect x="331.40" y="297.70" width="4.0" height="4.0" fill="#bf0f30"/>
<rect x="331.40" y="314.20" width="4.0" height="4.0" fill="#bf0f30"/>
<rect x="328.80" y="323.80" width="4.0" height="4.0" fill="#bf0f30"/>
<rect x="334.80" y="323.80" width="4.0" height="4.0" fill="#bf0f30"/>
<rect x="331.40" y="332.20" width="4.0" height="4.0" fill="#bf0f30"/>
<line x1="357.40" y1="285.40" x2="357.40" y2="320.70" stroke="#32964a" stroke-width="1.25"/>
<line x1="350.50" y1="303.40" x2="364.30" y2="303.40" stroke="#32964a" stroke-width="1.25"/>
<line x1="353.90" y1="285.40" x2="360.90" y2="285.40" stroke="#32964a" stroke-width="1.25"/>
<line x1="353.90" y1="320.70" x2="360.90" y2="320.70" stroke="#32964a" stroke-width="1.25"/>
<path d="M357.40,279.31 L359.50,283.09 L355.30,283.09Z" fill="#32964a"/>
<path d="M357.40,286.01 L359.50,289.79 L355.30,289.79Z" fill="#32964a"/>
<path d="M357.40,309.21 L359.50,312.99 L355.30,312.99Z" fill="#32964a"/>
<path d="M357.40,314.31 L359.50,318.09 L355.30,318.09Z" fill="#32964a"/>
<path d="M357.40,318.81 L359.50,322.59 L355.30,322.59Z" fill="#32964a"/>
<line x1="381.30" y1="272.70" x2="381.30" y2="316.20" stroke="#32964a" stroke-width="1.25"/>
<line x1="374.30" y1="295.00" x2="388.30" y2="295.00" stroke="#32964a" stroke-width="1.25"/>
<line x1="377.70" y1="272.70" x2="384.90" y2="272.70" stroke="#32964a" stroke-width="1.25"/>
<line x1="377.70" y1="316.20" x2="384.90" y2="316.20" stroke="#32964a" stroke-width="1.25"/>
<path d="M381.30,270.01 L383.40,273.79 L379.20,273.79Z" fill="#32964a"/>
<path d="M381.30,285.11 L383.40,288.89 L379.20,288.89Z" fill="#32964a"/>
<path d="M381.30,288.51 L383.40,292.29 L379.20,292.29Z" fill="#32964a"/>
<path d="M381.30,295.21 L383.40,298.99 L379.20,298.99Z" fill="#32964a"/>
<path d="M381.30,327.71 L383.40,331.49 L379.20,331.49Z" fill="#32964a"/>
<line x1="404.50" y1="366.00" x2="404.50" y2="375.50" stroke="#ec9424" stroke-width="1.25"/>
<line x1="397.60" y1="371.20" x2="411.40" y2="371.20" stroke="#ec9424" stroke-width="1.25"/>
<line x1="401.75" y1="366.00" x2="407.25" y2="366.00" stroke="#ec9424" stroke-width="1.25"/>
<line x1="401.75" y1="375.50" x2="407.25" y2="375.50" stroke="#ec9424" stroke-width="1.25"/>
<path d="M402.30,363.45 L404.15,365.30 L402.30,367.15 L400.45,365.30Z" fill="#ec9424"/>
<path d="M406.20,364.55 L408.05,366.40 L406.20,368.25 L404.35,366.40Z" fill="#ec9424"/>
<path d="M404.00,366.75 L405.85,368.60 L404.00,370.45 L402.15,368.60Z" fill="#ec9424"/>
<path d="M402.90,370.65 L404.75,372.50 L402.90,374.35 L401.05,372.50Z" fill="#ec9424"/>
<path d="M407.80,369.55 L409.65,371.40 L407.80,373.25 L405.95,371.40Z" fill="#ec9424"/>
<path d="M402.30,375.05 L404.15,376.90 L402.30,378.75 L400.45,376.90Z" fill="#ec9424"/>
<path d="M407.30,372.85 L409.15,374.70 L407.30,376.55 L405.45,374.70Z" fill="#ec9424"/>
<line x1="429.20" y1="347.00" x2="429.20" y2="356.50" stroke="#ec9424" stroke-width="1.25"/>
<line x1="422.30" y1="352.60" x2="436.10" y2="352.60" stroke="#ec9424" stroke-width="1.25"/>
<line x1="426.45" y1="347.00" x2="431.95" y2="347.00" stroke="#ec9424" stroke-width="1.25"/>
<line x1="426.45" y1="356.50" x2="431.95" y2="356.50" stroke="#ec9424" stroke-width="1.25"/>
<path d="M429.20,343.55 L431.05,345.40 L429.20,347.25 L427.35,345.40Z" fill="#ec9424"/>
<path d="M427.20,346.35 L429.05,348.20 L427.20,350.05 L425.35,348.20Z" fill="#ec9424"/>
<path d="M431.10,346.35 L432.95,348.20 L431.10,350.05 L429.25,348.20Z" fill="#ec9424"/>
<path d="M426.10,349.65 L427.95,351.50 L426.10,353.35 L424.25,351.50Z" fill="#ec9424"/>
<path d="M432.20,350.15 L434.05,352.00 L432.20,353.85 L430.35,352.00Z" fill="#ec9424"/>
<path d="M429.20,352.45 L431.05,354.30 L429.20,356.15 L427.35,354.30Z" fill="#ec9424"/>
<path d="M426.10,356.25 L427.95,358.10 L426.10,359.95 L424.25,358.10Z" fill="#ec9424"/>
<path d="M432.20,355.75 L434.05,357.60 L432.20,359.45 L430.35,357.60Z" fill="#ec9424"/>
<rect x="0.5" y="0.5" width="519" height="415" fill="none" stroke="#3a3a3a" stroke-width="1"/>
</svg>
</body></html>
